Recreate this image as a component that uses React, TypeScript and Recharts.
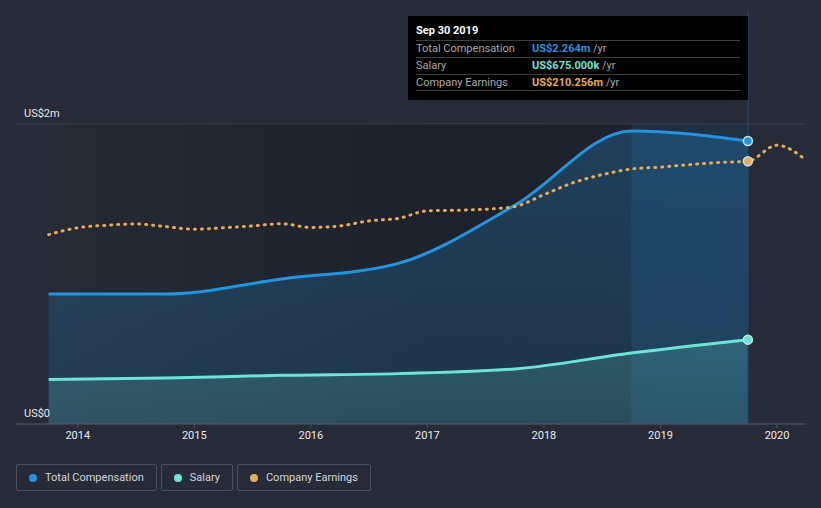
import React from 'react';
import {
  ComposedChart,
  Area,
  Line,
  XAxis,
  YAxis,
  CartesianGrid,
  ReferenceArea,
  ReferenceLine,
} from 'recharts';

// annual compensation figures (US$m), fiscal year end Sep 30
const compDates = [2013.75, 2014.75, 2015.75, 2016.75, 2017.75, 2018.75, 2019.75];
const totalComp = [1.04, 1.04, 1.16, 1.285, 1.75, 2.345, 2.264];
const salary = [0.355, 0.368, 0.39, 0.403, 0.44, 0.568, 0.675];

// quarterly trailing earnings (US$m)
const earnDates = [
  2013.75, 2014.0, 2014.25, 2014.5, 2014.75, 2015.0, 2015.25, 2015.5, 2015.75,
  2016.0, 2016.25, 2016.5, 2016.75, 2017.0, 2017.25, 2017.5, 2017.75, 2018.0,
  2018.25, 2018.5, 2018.75, 2019.0, 2019.25, 2019.5, 2019.75, 2020.0, 2020.25,
];
const earnings = [
  151.5, 157, 159, 160, 158, 155.8, 157, 158.5, 160.2,
  157.2, 158.5, 162.5, 164.5, 170.5, 171, 171.8, 174, 183.5,
  193, 199.5, 204, 205.5, 207.5, 209.2, 210.256, 223, 211,
];

const yearTicks = [2014, 2015, 2016, 2017, 2018, 2019, 2020];
const compTicks = [0, 1, 2, 2.4];
const compAxisLabels = [
  { value: 2.4, text: 'US$2m' },
  { value: 0, text: 'US$0' },
];

const focusDate = 2019.75;
const highlightStart = 2018.75;

const BLUE = '#2394DF';
const TEAL = '#6CE5D6';
const ORANGE = '#E8AB57';
const BG = '#262B37';
const FONT = 'Roboto, "Noto Sans", sans-serif';

// merge the series into one table keyed by date
const allDates = Array.from(new Set([...compDates, ...earnDates])).sort((a, b) => a - b);
const tableData = allDates.map((t) => {
  const ci = compDates.indexOf(t);
  const ei = earnDates.indexOf(t);
  return {
    t,
    comp: ci >= 0 ? totalComp[ci] : null,
    salary: ci >= 0 ? salary[ci] : null,
    earn: ei >= 0 ? earnings[ei] : null,
  };
});

const legendItems = [
  { name: 'Total Compensation', color: BLUE },
  { name: 'Salary', color: TEAL },
  { name: 'Company Earnings', color: ORANGE },
];

const tooltipRows = [
  { label: 'Total Compensation', value: 'US$2.264m', color: BLUE },
  { label: 'Salary', value: 'US$675.000k', color: TEAL },
  { label: 'Company Earnings', value: 'US$210.256m', color: ORANGE },
];

const focusDot = (color: string) => (props: any) => {
  const { cx, cy, payload, index } = props;
  if (cy == null || !payload || payload.t !== focusDate) return <g key={`d${index}`} />;
  return <circle key={`d${index}`} cx={cx} cy={cy} r={4.5} fill={color} stroke="#d8dde6" strokeWidth={1.5} />;
};

const AxisLabel = (props: any) => {
  const { viewBox, text } = props;
  if (!viewBox) return null;
  return (
    <text x={viewBox.x + 8} y={viewBox.y - 7.5} fill="#e6e6e6" fontSize={11} fontFamily={FONT} textAnchor="start">
      {text}
    </text>
  );
};

const App: React.FC = () => {
  return (
    <div
      style={{
        position: 'absolute',
        left: 0,
        top: 0,
        width: 821,
        height: 508,
        background: BG,
        fontFamily: FONT,
        overflow: 'hidden',
      }}
    >
      <ComposedChart
        width={821}
        height={508}
        data={tableData}
        margin={{ top: 124, right: 16, bottom: 54, left: 16 }}
        style={{ fontFamily: FONT }}
      >
        <defs>
          <linearGradient id="pastShade" x1="0" y1="0" x2="1" y2="0">
            <stop offset="0%" stopColor="#0b0d12" stopOpacity={0.04} />
            <stop offset="55%" stopColor="#0b0d12" stopOpacity={0.32} />
            <stop offset="100%" stopColor="#0b0d12" stopOpacity={0.3} />
          </linearGradient>
          <linearGradient id="compFill" x1="0" y1="0" x2="0" y2="1">
            <stop offset="0%" stopColor={BLUE} stopOpacity={0.26} />
            <stop offset="100%" stopColor={BLUE} stopOpacity={0.16} />
          </linearGradient>
          <linearGradient id="salaryFill" x1="0" y1="0" x2="0" y2="1">
            <stop offset="0%" stopColor={TEAL} stopOpacity={0.2} />
            <stop offset="100%" stopColor={TEAL} stopOpacity={0.14} />
          </linearGradient>
        </defs>
        <ReferenceArea
          yAxisId="comp"
          x1={compDates[0]}
          x2={focusDate}
          y1={0}
          y2={2.4}
          fill="url(#pastShade)"
          fillOpacity={1}
          stroke="none"
        />
        <CartesianGrid yAxisId="comp" vertical={false} stroke="#3a404d" strokeWidth={1} />
        <XAxis
          dataKey="t"
          type="number"
          domain={[2013.47, 2020.24]}
          allowDataOverflow
          ticks={yearTicks}
          tickFormatter={(v: number) => String(v)}
          stroke="#4d5362"
          tick={{ fill: '#ececec', fontSize: 11 }}
          tickSize={4}
          tickMargin={3}
          height={30}
        />
        <YAxis
          yAxisId="comp"
          domain={[0, 2.4]}
          ticks={compTicks}
          width={0}
          axisLine={false}
          tickLine={false}
          tick={false}
          allowDataOverflow
        />
        <YAxis yAxisId="earn" orientation="right" domain={[0, 240]} hide width={0} />
        <ReferenceArea
          yAxisId="comp"
          x1={highlightStart}
          x2={focusDate}
          y1={0}
          y2={2.4}
          fill={BLUE}
          fillOpacity={0.13}
          stroke="none"
        />
        <Area
          yAxisId="comp"
          type="monotone"
          dataKey="comp"
          stroke={BLUE}
          strokeWidth={3}
          fill="url(#compFill)"
          fillOpacity={1}
          connectNulls
          dot={focusDot(BLUE)}
          activeDot={false}
          isAnimationActive={false}
        />
        <Area
          yAxisId="comp"
          type="monotone"
          dataKey="salary"
          stroke={TEAL}
          strokeWidth={3}
          fill="url(#salaryFill)"
          fillOpacity={1}
          connectNulls
          dot={focusDot(TEAL)}
          activeDot={false}
          isAnimationActive={false}
        />
        <Line
          yAxisId="earn"
          type="monotone"
          dataKey="earn"
          stroke={ORANGE}
          strokeWidth={3}
          strokeDasharray="1 6"
          strokeLinecap="round"
          connectNulls
          dot={focusDot(ORANGE)}
          activeDot={false}
          isAnimationActive={false}
        />
        <ReferenceLine
          yAxisId="comp"
          segment={[
            { x: focusDate, y: 0 },
            { x: focusDate, y: 3.3 },
          ]}
          stroke="#1f4f80"
          strokeWidth={1}
          ifOverflow="visible"
        />
        {compAxisLabels.map((l) => (
          <ReferenceLine
            key={l.text}
            yAxisId="comp"
            y={l.value}
            stroke="none"
            label={<AxisLabel text={l.text} />}
          />
        ))}
      </ComposedChart>

      {/* tooltip box */}
      <div
        style={{
          position: 'absolute',
          left: 408,
          top: 16,
          width: 340,
          height: 84,
          background: '#000',
          boxSizing: 'border-box',
          padding: '0 8px',
          fontSize: 11,
        }}
      >
        <div style={{ height: 24, lineHeight: '24px', paddingTop: 3, color: '#fff', fontWeight: 700, boxSizing: 'border-box' }}>
          Sep 30 2019
        </div>
        {tooltipRows.map((r, i) => (
          <div
            key={r.label}
            style={{
              display: 'flex',
              height: 17,
              lineHeight: '16px',
              borderTop: '1px solid #3d3d3d',
              borderBottom: i === tooltipRows.length - 1 ? '1px solid #3d3d3d' : 'none',
              boxSizing: 'border-box',
            }}
          >
            <span style={{ width: 116, color: '#a9a9a9' }}>{r.label}</span>
            <span style={{ color: r.color, fontWeight: 700 }}>{r.value}</span>
            <span style={{ color: '#a9a9a9' }}>&nbsp;/yr</span>
          </div>
        ))}
      </div>

      {/* legend */}
      <div style={{ position: 'absolute', left: 16, top: 464, display: 'flex', gap: 4 }}>
        {legendItems.map((it) => (
          <div
            key={it.name}
            style={{
              display: 'flex',
              alignItems: 'center',
              height: 27,
              boxSizing: 'border-box',
              padding: '0 12px',
              border: '1px solid #4a505e',
              borderRadius: 2,
              color: '#d4d6db',
              fontSize: 11,
            }}
          >
            <span
              style={{
                width: 8,
                height: 8,
                borderRadius: '50%',
                background: it.color,
                marginRight: 8,
                display: 'inline-block',
              }}
            />
            {it.name}
          </div>
        ))}
      </div>
    </div>
  );
};

export default App;
